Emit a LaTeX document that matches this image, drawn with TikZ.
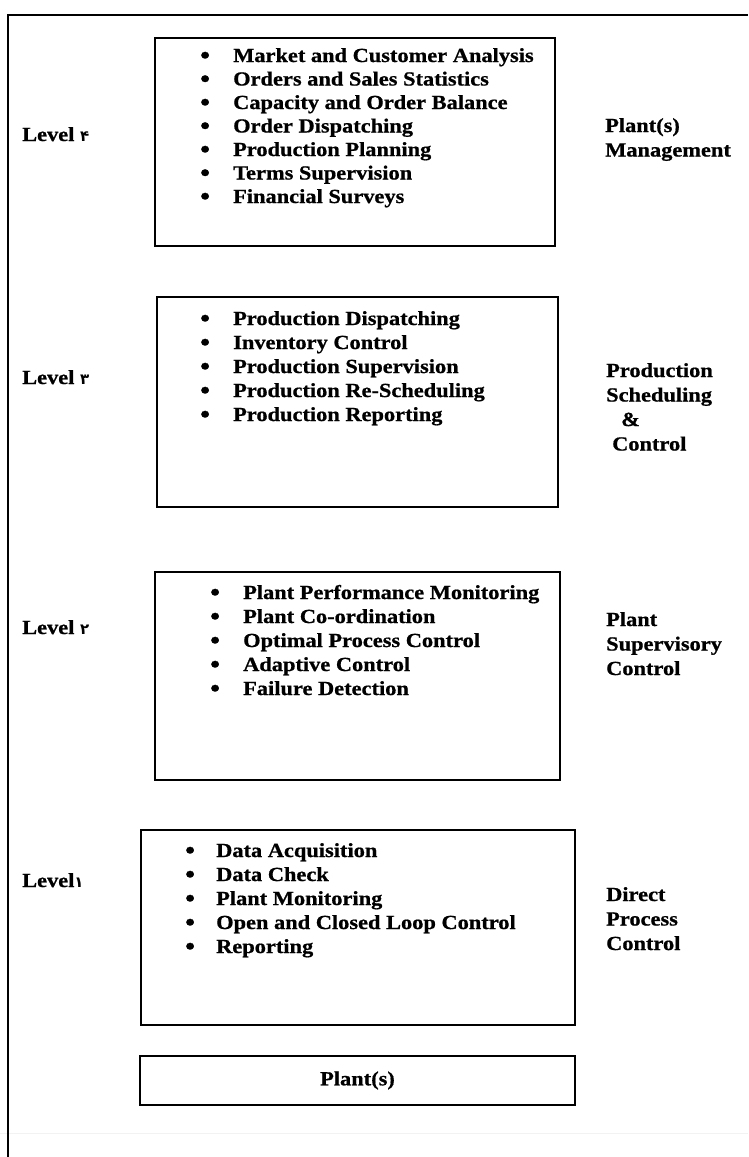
\documentclass[tikz,border=0pt]{standalone}
\usepackage{fontspec}
\setmainfont[FakeStretch=1.12,BoldFeatures={FakeBold=0.8}]{Liberation Serif}
\newfontfamily\fa[Script=Arabic]{DejaVu Sans}
\TeXXeTstate=1
\newcommand\bl{\makebox[33pt][l]{\raisebox{-1.5pt}{\scalebox{1.25}{•}}}}
\newcommand\blb{\makebox[31pt][l]{\raisebox{-1.5pt}{\scalebox{1.25}{•}}}}
\newcommand\dg[1]{{\fa\fontsize{15}{18}\selectfont\bfseries\beginR #1\endR}}
\begin{document}
\begin{tikzpicture}[x=1pt,y=-1pt,
  box/.style={draw, line width=1.6pt, inner sep=0pt},
  lst/.style={inner sep=0pt, anchor=base west, font=\fontsize{20}{24}\selectfont\bfseries},
  lab/.style={inner sep=0pt, anchor=base west, font=\fontsize{20}{24.5}\selectfont\bfseries}]
\useasboundingbox (0,0) rectangle (748,1157);
% frame
\draw[gray!10, line width=1pt] (0,1133) -- (748,1133);
\draw[line width=2pt] (8,1157) -- (8,15) -- (748,15);
% boxes
\node[box, minimum width=400pt, minimum height=208pt] (b4) at (355,142) {};
\node[box, minimum width=401pt, minimum height=210pt] (b3) at (357.5,402) {};
\node[box, minimum width=405pt, minimum height=208pt] (b2) at (357.5,676) {};
\node[box, minimum width=434pt, minimum height=195pt] (b1) at (358,927.5) {};
\node[box, minimum width=435pt, minimum height=49pt, font=\fontsize{20}{24}\selectfont\bfseries] (b0) at (357.5,1080.5) {Plant(s)};
% lists
\node[lst, font=\fontsize{20}{23.5}\selectfont\bfseries] (l4) at (200,62) {\begin{tabular}[t]{@{}l@{}}
\bl Market and Customer Analysis\\
\bl Orders and Sales Statistics\\
\bl Capacity and Order Balance\\
\bl Order Dispatching\\
\bl Production Planning\\
\bl Terms Supervision\\
\bl Financial Surveys
\end{tabular}};
\node[lst] (l3) at (200,325) {\begin{tabular}[t]{@{}l@{}}
\bl Production Dispatching\\
\bl Inventory Control\\
\bl Production Supervision\\
\bl Production Re-Scheduling\\
\bl Production Reporting
\end{tabular}};
\node[lst] (l2) at (210,599) {\begin{tabular}[t]{@{}l@{}}
\bl Plant Performance Monitoring\\
\bl Plant Co-ordination\\
\bl Optimal Process Control\\
\bl Adaptive Control\\
\bl Failure Detection
\end{tabular}};
\node[lst] (l1) at (185,857) {\begin{tabular}[t]{@{}l@{}}
\blb Data Acquisition\\
\blb Data Check\\
\blb Plant Monitoring\\
\blb Open and Closed Loop Control\\
\blb Reporting
\end{tabular}};
% level labels
\node[lab] (v4) at (22,141) {Level \dg{۴}};
\node[lab] (v3) at (22,384) {Level \dg{۳}};
\node[lab] (v2) at (22,634) {Level \dg{۲}};
\node[lab] (v1) at (22,887) {Level\dg{۱}};
% right labels
\node[lab] (m4) at (605,132) {\begin{tabular}[t]{@{}l@{}}Plant(s)\\Management\end{tabular}};
\node[lab] (m3) at (606,377) {\begin{tabular}[t]{@{}l@{}}Production\\Scheduling\\\hspace*{15pt}\&\\\hspace*{6pt}Control\end{tabular}};
\node[lab] (m2) at (606,626) {\begin{tabular}[t]{@{}l@{}}Plant\\Supervisory\\Control\end{tabular}};
\node[lab] (m1) at (606,901) {\begin{tabular}[t]{@{}l@{}}Direct\\Process\\Control\end{tabular}};
\end{tikzpicture}
\end{document}
